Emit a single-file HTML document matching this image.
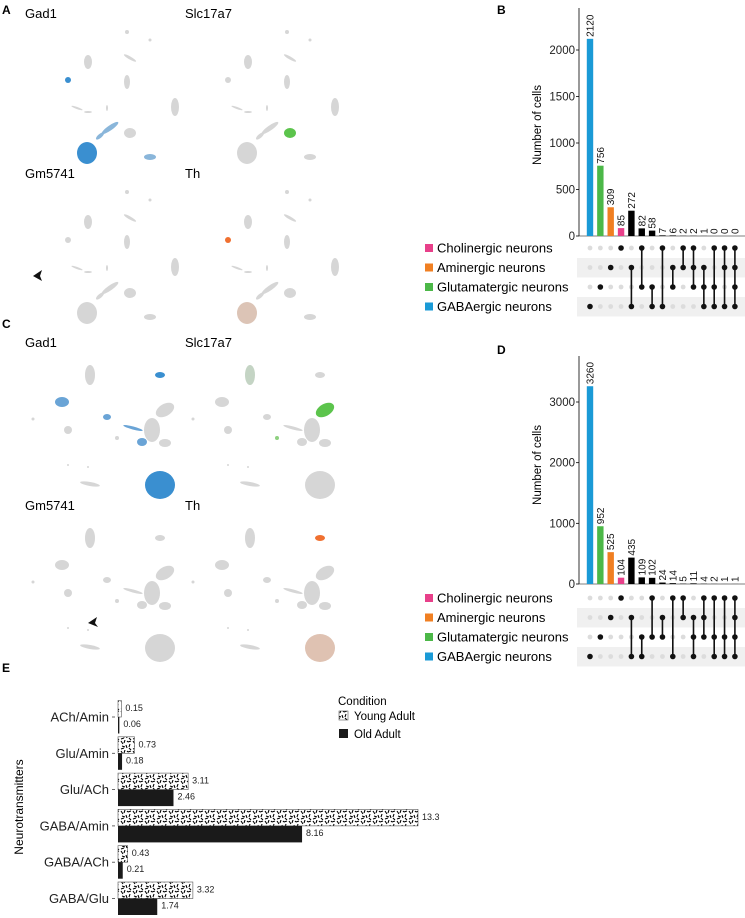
<!DOCTYPE html>
<html><head><meta charset="utf-8">
<style>
body{margin:0;background:#fff;}
svg{display:block;font-family:"Liberation Sans",Arial,sans-serif;}
</style></head>
<body>
<svg id="fig" width="745" height="918" viewBox="0 0 745 918">
<defs>
<pattern id="young" width="12" height="10" patternUnits="userSpaceOnUse">
<rect width="12" height="10" fill="#fff"/>
<path d="M1 1l2 3M5 0l-1 3M8 2l3-1M10 4l-1 3M2 6l3 1M6 5l1 3M1 9l3-1M9 8l2 2M7 1l1 1" stroke="#000" stroke-width="1.1" fill="none"/>
</pattern>
</defs>
<g id="umapA"></g>
<g id="umapC"></g>
<g id="upsetB"></g>
<g id="upsetD"></g>
<g id="barE"></g>
<text x="2" y="14" font-size="12" font-weight="bold">A</text>
<text x="497" y="14" font-size="12" font-weight="bold">B</text>
<text x="2" y="328" font-size="12" font-weight="bold">C</text>
<text x="497" y="354" font-size="12" font-weight="bold">D</text>
<text x="2" y="672" font-size="12" font-weight="bold">E</text>
</svg>
<script>
const NS="http://www.w3.org/2000/svg";
function mk(tag,attrs,parent){const e=document.createElementNS(NS,tag);for(const k in attrs)e.setAttribute(k,attrs[k]);parent.appendChild(e);return e;}

// ---------- UMAP panels (decorative) ----------
const blobsA=[[68,80,3,3,0,'a'],[88,62,4,7,0],[127,82,3,7,0],[130,58,7,1.5,30],[127,32,2,2,0],[150,40,1.5,1.5,0],[77,108,6,1,20],[88,112,4,1,0],[107,108,1,3,0],[175,107,4,9,0],[110,128,10,2.5,-35,'c'],[100,136,5,2,-40,'c'],[130,133,6,5,0,'g'],[87,153,10,11,0,'b'],[150,157,6,3,0,'c']];
const blobsC=[[90,375,5,10,0,'s'],[160,375,5,3,0,'a'],[62,402,7,5,0,'c'],[33,419,1.5,1.5,0],[68,430,4,4,0],[107,417,4,3,0,'c'],[133,428,10,1.5,15,'c'],[152,430,8,12,0],[165,410,10,6,-30,'g'],[142,442,5,4,0,'c'],[165,443,6,4,0],[117,438,2,2,0,'h'],[90,484,10,2,10],[160,485,15,14,0,'b'],[68,465,1,1,0],[88,467,1,1,0]];
function drawUmap(g,blobs,genes,ox,oy){
  genes.forEach((gn,i)=>{
    const dx=(i%2)*160, dy=Math.floor(i/2)*(oy);
    const t=mk('text',{x:25+dx,y:(ox)+dy,'font-size':13},g);t.textContent=gn.name;
    
    
    blobs.forEach(b=>{
      let fill='#d6d6d6';
      const tag=b[5];
      if(tag&&gn.hi[tag])fill=gn.hi[tag];
      const e=mk('ellipse',{cx:b[0]+dx,cy:b[1]+dy,rx:b[2],ry:b[3],fill:fill,transform:`rotate(${b[4]} ${b[0]+dx} ${b[1]+dy})`},g);
      
      
    });
  });
}
drawUmap(document.getElementById('umapA'),blobsA,[
 {name:'Gad1',hi:{a:'#3a8fd0',b:'#3a8fd0',c:'#8ab6da'}},
 {name:'Slc17a7',hi:{g:'#5cc44c'}},
 {name:'Gm5741',hi:{}},
 {name:'Th',hi:{a:'#f07030',b:'#dcc4b6'}}],18,160);
drawUmap(document.getElementById('umapC'),blobsC,[
 {name:'Gad1',hi:{a:'#3a8fd0',b:'#3a8fd0',c:'#6aa4d6'}},
 {name:'Slc17a7',hi:{g:'#5cc44c',h:'#8ed080',s:'#c4d4c4'}},
 {name:'Gm5741',hi:{}},
 {name:'Th',hi:{a:'#f07030',b:'#dfc2b2'}}],347,163);
(function(){const g=document.getElementById('umapA');
 const a=mk('path',{d:'M33 276 L42 270 L40 276 L42 281 Z',fill:'#111'},g);
 const gc=document.getElementById('umapC');
 const b=mk('path',{d:'M88 623 L97 617 L95 623 L98 627 Z',fill:'#111'},gc);})();

// ---------- Upset data ----------
const setNames=['Cholinergic neurons','Aminergic neurons','Glutamatergic neurons','GABAergic neurons'];
const setColors=['#e8408a','#f07f22','#4cb848','#1a9ad6'];
const valuesB=[2120,756,309,85,272,82,58,7,6,2,2,1,0,0,0];
const combosB=[[3],[2],[1],[0],[1,3],[0,2],[2,3],[0,3],[1,2],[0,1],[0,1,2],[1,2,3],[0,2,3],[0,1,3],[0,1,2,3]];
const ticksB=[0,500,1000,1500,2000];
const valuesD=[3260,952,525,104,435,109,102,24,14,5,11,4,2,1,1];
const combosD=[[3],[2],[1],[0],[1,3],[2,3],[0,2],[1,2],[0,3],[0,1],[1,2,3],[0,1,2],[0,2,3],[0,2,3],[0,1,2,3]];
const ticksD=[0,1000,2000,3000];

function drawUpset(g,vals,combos,ticks,zeroY,topY,pxPer,rowY0,titleY){
  const ax=579,x0=590,step=10.35;
  const y=v=>zeroY-v*pxPer;
  const xc=i=>x0+i*step;
  const axl=mk('line',{x1:ax,y1:topY,x2:ax,y2:zeroY,stroke:'#000','stroke-width':0.8},g);
  
  const bl=mk('line',{x1:ax,y1:zeroY,x2:745,y2:zeroY,stroke:'#000','stroke-width':0.6},g);
  
  ticks.forEach(t=>{
    mk('line',{x1:ax-3,y1:y(t),x2:ax,y2:y(t),stroke:'#000','stroke-width':0.8},g);
    const tx=mk('text',{x:ax-4,y:y(t)+4,'font-size':11.5,'text-anchor':'end',fill:'#222'},g);tx.textContent=t;
    
  });
  const tt=mk('text',{x:0,y:0,'font-size':11.5,'text-anchor':'middle',transform:`translate(541 ${titleY}) rotate(-90)`},g);
  tt.textContent='Number of cells';
  vals.forEach((v,i)=>{
    const col=i<4?setColors[combos[i][0]]:'#000';
    const r=mk('rect',{x:xc(i)-3.2,y:y(v),width:6.4,height:Math.max(0,zeroY-y(v)),fill:col},g);
    
    const tx=mk('text',{x:0,y:0,'font-size':10,transform:`translate(${xc(i)+3.5} ${y(v)-2}) rotate(-90)`,fill:'#111'},g);
    tx.textContent=v;
  });
  const rowY=k=>rowY0+k*19.5;
  setNames.forEach((n,k)=>{
    if(k%2==1){const s=mk('rect',{x:577,y:rowY(k)-9.5,width:168,height:19.5,fill:'#f0f0f0'},g);}
    const sq=mk('rect',{x:425,y:rowY(k)-4,width:8,height:8,fill:setColors[k]},g);
    
    const tx=mk('text',{x:437,y:rowY(k)+4.5,'font-size':13},g);tx.textContent=n;
    
  });
  combos.forEach((c,i)=>{
    const mn=Math.min(...c),mx=Math.max(...c);
    for(let k=0;k<4;k++){
      if(!c.includes(k)){const d=mk('circle',{cx:xc(i),cy:rowY(k),r:2.4,fill:'#dcdcdc'},g);}
    }
    if(mx>mn){const l=mk('line',{x1:xc(i),y1:rowY(mn),x2:xc(i),y2:rowY(mx),stroke:'#111','stroke-width':1.6},g);}
    c.forEach(k=>{const d=mk('circle',{cx:xc(i),cy:rowY(k),r:2.8,fill:'#111'},g);});
  });
}
drawUpset(document.getElementById('upsetB'),valuesB,combosB,ticksB,236,8,186/2000,248,125);
drawUpset(document.getElementById('upsetD'),valuesD,combosD,ticksD,584,356,182/3000,598,465);

// ---------- Bar chart E ----------
const categoriesE=['ACh/Amin','Glu/Amin','Glu/ACh','GABA/Amin','GABA/ACh','GABA/Glu'];
const youngE=[0.15,0.73,3.11,13.3,0.43,3.32];
const oldE=[0.06,0.18,2.46,8.16,0.21,1.74];
(function(){
  const g=document.getElementById('barE');
  const x0=118,px=300/13.3;
  const xv=v=>x0+v*px;
  const cy=i=>717+i*36.3;
  categoriesE.forEach((c,i)=>{
    const t=mk('text',{x:109,y:cy(i)+4.5,'font-size':13,'text-anchor':'end',fill:'#222'},g);t.textContent=c;
    
    mk('line',{x1:112,y1:cy(i),x2:115,y2:cy(i),stroke:'#444','stroke-width':0.8},g);
    const r1=mk('rect',{x:x0,y:cy(i)-16.5,width:xv(youngE[i])-x0,height:16.5,fill:'url(#young)',stroke:'#555','stroke-width':0.6},g);
    
    const r2=mk('rect',{x:x0,y:cy(i),width:xv(oldE[i])-x0,height:16.5,fill:'#1a1a1a'},g);
    
    const l1=mk('text',{x:xv(youngE[i])+4,y:cy(i)-6,'font-size':9,fill:'#222'},g);l1.textContent=youngE[i];
    
    const l2=mk('text',{x:xv(oldE[i])+4,y:cy(i)+10,'font-size':9,fill:'#222'},g);l2.textContent=oldE[i];
    
  });
  const yt=mk('text',{x:0,y:0,'font-size':12,'text-anchor':'middle',transform:'translate(23 807) rotate(-90)'},g);
  yt.textContent='Neurotransmitters';
  const lt=mk('text',{x:338,y:705,'font-size':11.5},g);lt.textContent='Condition';
  
  const s1=mk('rect',{x:339,y:711,width:9,height:9,fill:'url(#young)',stroke:'#555','stroke-width':0.6},g);
  
  const t1=mk('text',{x:354,y:720,'font-size':11.5},g);t1.textContent='Young Adult';
  
  const s2=mk('rect',{x:339,y:729,width:9,height:9,fill:'#1a1a1a'},g);
  
  const t2=mk('text',{x:354,y:738,'font-size':11.5},g);t2.textContent='Old Adult';
  
})();
</script>
</body></html>
